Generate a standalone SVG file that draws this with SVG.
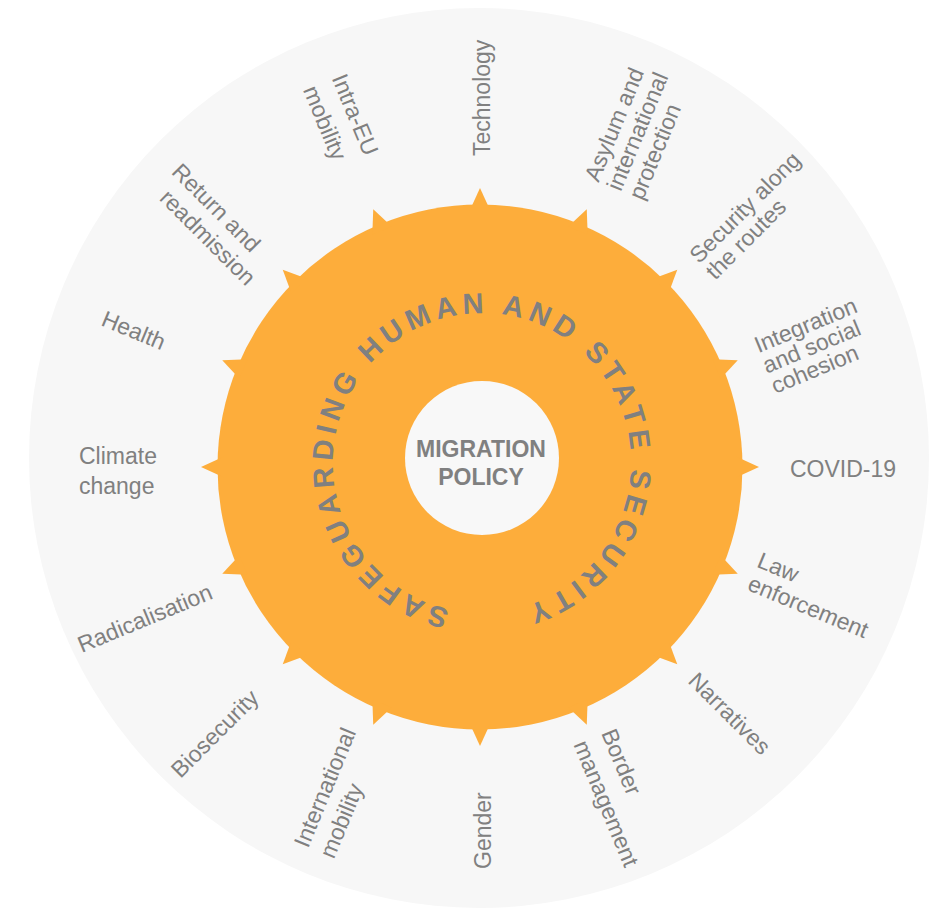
<svg xmlns="http://www.w3.org/2000/svg" xmlns:xlink="http://www.w3.org/1999/xlink" width="937" height="909" viewBox="0 0 937 909">
<style>
.lbl{font-family:"Liberation Sans",Arial,sans-serif;font-size:23px;fill:#808080;}
.ring{font-family:"Liberation Sans",Arial,sans-serif;font-size:29px;font-weight:bold;fill:#808080;letter-spacing:5.14px;}
.core{font-family:"Liberation Sans",Arial,sans-serif;font-size:23px;font-weight:bold;fill:#808080;}
.spk{fill:#FDAD3B;}
</style>
<defs>
<path id="spike" d="M -10.5 -256 L 0 -279 L 10.5 -256 Z"/>
<path id="ringpath" d="M 449.8 609.5 A 150 150 0 0 1 514.2 316.5 A 150 150 0 0 1 454.9 610.5"/>
</defs>
<rect width="937" height="909" fill="#FFFFFF"/>
<circle id="outer" cx="479" cy="458" r="450" fill="#F7F7F7"/>
<g id="hub">
<circle cx="480" cy="467" r="262.5" fill="#FDAD3B"/>
<g class="spk">
<use href="#spike" transform="translate(480,467) rotate(0)"/>
<use href="#spike" transform="translate(480,467) rotate(22.5)"/>
<use href="#spike" transform="translate(480,467) rotate(45)"/>
<use href="#spike" transform="translate(480,467) rotate(67.5)"/>
<use href="#spike" transform="translate(480,467) rotate(90)"/>
<use href="#spike" transform="translate(480,467) rotate(112.5)"/>
<use href="#spike" transform="translate(480,467) rotate(135)"/>
<use href="#spike" transform="translate(480,467) rotate(157.5)"/>
<use href="#spike" transform="translate(480,467) rotate(180)"/>
<use href="#spike" transform="translate(480,467) rotate(202.5)"/>
<use href="#spike" transform="translate(480,467) rotate(225)"/>
<use href="#spike" transform="translate(480,467) rotate(247.5)"/>
<use href="#spike" transform="translate(480,467) rotate(270)"/>
<use href="#spike" transform="translate(480,467) rotate(292.5)"/>
<use href="#spike" transform="translate(480,467) rotate(315)"/>
<use href="#spike" transform="translate(480,467) rotate(337.5)"/>
</g>
<text class="ring"><textPath href="#ringpath">SAFEGUARDING HUMAN AND STATE SECURITY</textPath></text>
</g>
<g id="center">
<circle cx="482" cy="458" r="77" fill="#F8F8F8"/>
<text class="core" text-anchor="middle"><tspan x="481" y="457">MIGRATION</tspan><tspan x="481" y="485">POLICY</tspan></text>
</g>
<g id="connectors"></g>
<g id="label-technology" transform="translate(490,156) rotate(-90)"><text class="lbl">Technology</text></g>
<g id="label-asylum" transform="translate(598.5,183) rotate(-67.5)"><text class="lbl"><tspan x="0" y="0">Asylum and</tspan><tspan x="0" y="24">international</tspan><tspan x="0" y="48">protection</tspan></text></g>
<g id="label-security" transform="translate(699,264.5) rotate(-45)"><text class="lbl"><tspan x="0" y="0">Security along</tspan><tspan x="0" y="23">the routes</tspan></text></g>
<g id="label-integration" transform="translate(758.4,353.3) rotate(-22.5)"><text class="lbl"><tspan x="0" y="0">Integration</tspan><tspan x="0" y="22">and social</tspan><tspan x="0" y="44">cohesion</tspan></text></g>
<g id="label-covid" transform="translate(790,477)"><text class="lbl">COVID-19</text></g>
<g id="label-law" transform="translate(755.7,566.5) rotate(22.5)"><text class="lbl"><tspan x="0" y="0">Law</tspan><tspan x="0" y="25">enforcement</tspan></text></g>
<g id="label-narratives" transform="translate(687,682) rotate(45)"><text class="lbl">Narratives</text></g>
<g id="label-border" transform="translate(601,733) rotate(67.5)"><text class="lbl"><tspan x="0" y="0">Border</tspan><tspan x="0" y="30">management</tspan></text></g>
<g id="label-gender" transform="translate(490.5,869) rotate(-90)"><text class="lbl">Gender</text></g>
<g id="label-intl" transform="translate(308,849) rotate(-67.5)"><text class="lbl"><tspan x="0" y="0">International</tspan><tspan x="0" y="28">mobility</tspan></text></g>
<g id="label-biosecurity" transform="translate(180.5,779) rotate(-45)"><text class="lbl">Biosecurity</text></g>
<g id="label-radicalisation" transform="translate(81.7,653) rotate(-22.5)"><text class="lbl">Radicalisation</text></g>
<g id="label-climate" transform="translate(79,464)"><text class="lbl"><tspan x="0" y="0">Climate</tspan><tspan x="0" y="30">change</tspan></text></g>
<g id="label-health" transform="translate(100,325) rotate(22.5)"><text class="lbl">Health</text></g>
<g id="label-return" transform="translate(170.4,173) rotate(45)"><text class="lbl"><tspan x="0" y="0">Return and</tspan><tspan x="10" y="27">readmission</tspan></text></g>
<g id="label-intraeu" transform="translate(331.5,78) rotate(67.5)"><text class="lbl"><tspan x="0" y="0">Intra-EU</tspan><tspan x="0" y="31">mobility</tspan></text></g>
</svg>
